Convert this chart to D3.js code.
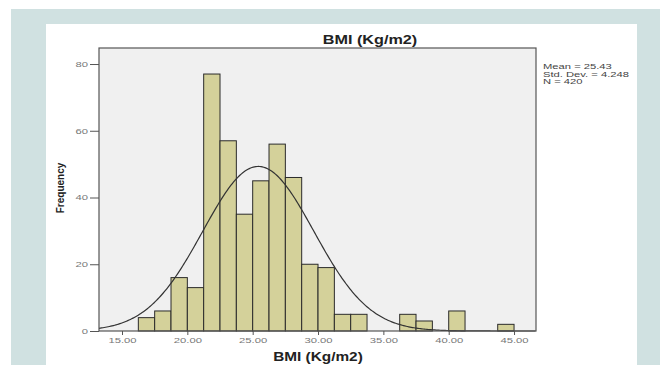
<!DOCTYPE html>
<html>
<head>
<meta charset="utf-8">
<script src="https://cdn.jsdelivr.net/npm/d3@7"></script>
<style>
  body { margin: 0; background: #fff; }
  svg { display: block; }
</style>
</head>
<body>
<svg id="chart" width="660" height="365"></svg>
<script>
// histogram bins (lower edge, count), bin width 1.25
const binStarts = [16.25, 17.5, 18.75, 20, 21.25, 22.5, 23.75, 25, 26.25, 27.5, 28.75, 30, 31.25, 32.5, 33.75, 35, 36.25, 37.5, 38.75, 40, 41.25, 42.5, 43.75];
const counts    = [4, 6, 16, 13, 77, 57, 35, 45, 56, 46, 20, 19, 5, 5, 0, 0, 5, 3, 0, 6, 0, 0, 2];
const binWidth = 1.25;
const xTicks = [15, 20, 25, 30, 35, 40, 45];
const yTicks = [0, 20, 40, 60, 80];
const stats = { mean: 25.43, sd: 4.248, n: 420 };
const legendLines = ["Mean = 25.43", "Std. Dev. = 4.248", "N = 420"];

const svg = d3.select("#chart");
const font = "Liberation Sans, Arial, sans-serif";

// the source picture is stretched sideways; widen text to match
function stretch(sel, f) {
    sel.each(function () {
        const w = this.getComputedTextLength();
        d3.select(this).attr("textLength", w * f).attr("lengthAdjust", "spacingAndGlyphs");
    });
}

// page background
svg.append("rect").attr("x", 11).attr("y", 9).attr("width", 649).attr("height", 356).attr("fill", "#d0e1e1");
svg.append("rect").attr("x", 46).attr("y", 24).attr("width", 591).attr("height", 341).attr("fill", "#fff");

const plot = { left: 99, right: 536, top: 48, bottom: 331 };

const x = d3.scaleLinear().domain([13.24, 46.68]).range([plot.left, plot.right]);
const y = d3.scaleLinear().domain([0, 84.8]).range([plot.bottom, plot.top]);

svg.append("rect")
    .attr("x", plot.left).attr("y", plot.top)
    .attr("width", plot.right - plot.left).attr("height", plot.bottom - plot.top)
    .attr("fill", "#f0f0f0");

const bins = binStarts.map((s, i) => ({ x0: s, x1: s + binWidth, count: counts[i] })).filter(d => d.count > 0);

svg.append("g").selectAll("rect").data(bins).join("rect")
    .attr("x", d => x(d.x0))
    .attr("y", d => y(d.count))
    .attr("width", d => x(d.x1) - x(d.x0))
    .attr("height", d => y(0) - y(d.count))
    .attr("fill", "#d4d19a")
    .attr("stroke", "#2b2b2b")
    .attr("stroke-width", 1);

// fitted normal curve from the stated mean / sd
const pdf = v => stats.n * binWidth / (stats.sd * Math.sqrt(2 * Math.PI)) *
    Math.exp(-0.5 * ((v - stats.mean) / stats.sd) ** 2);
const curveX = d3.range(x.domain()[0], x.domain()[1], 0.1);
svg.append("path")
    .datum(curveX)
    .attr("fill", "none")
    .attr("stroke", "#333")
    .attr("stroke-width", 1.2)
    .attr("d", d3.line().x(d => x(d)).y(d => y(pdf(d))));

// frame
svg.append("rect")
    .attr("x", plot.left).attr("y", plot.top)
    .attr("width", plot.right - plot.left).attr("height", plot.bottom - plot.top)
    .attr("fill", "none").attr("stroke", "#555").attr("stroke-width", 1.2);

const yAxis = svg.append("g")
    .attr("transform", `translate(${plot.left},0)`)
    .call(d3.axisLeft(y).tickValues(yTicks).tickSize(9).tickPadding(2).tickFormat(d3.format("d")));
yAxis.select(".domain").remove();
yAxis.selectAll("line").attr("stroke", "#555");
yAxis.selectAll("text").attr("fill", "#777").attr("font-size", 7.5).attr("font-family", font)
    .call(stretch, 1.5);

const xAxis = svg.append("g")
    .attr("transform", `translate(0,${plot.bottom})`)
    .call(d3.axisBottom(x).tickValues(xTicks).tickSize(4).tickPadding(3).tickFormat(d3.format(".2f")));
xAxis.select(".domain").remove();
xAxis.selectAll("line").attr("stroke", "#555");
xAxis.selectAll("text").attr("fill", "#777").attr("font-size", 7.5).attr("font-family", font)
    .call(stretch, 1.5);

// titles
svg.append("text")
    .attr("x", 370).attr("y", 44)
    .attr("text-anchor", "middle")
    .attr("font-family", font).attr("font-weight", "bold").attr("font-size", 12)
    .attr("fill", "#222")
    .text("BMI (Kg/m2)")
    .call(stretch, 1.35);

svg.append("text")
    .attr("x", 318).attr("y", 361)
    .attr("text-anchor", "middle")
    .attr("font-family", font).attr("font-weight", "bold").attr("font-size", 12)
    .attr("fill", "#222")
    .text("BMI (Kg/m2)")
    .call(stretch, 1.28);

svg.append("text")
    .attr("transform", "translate(64,188) rotate(-90)")
    .attr("text-anchor", "middle")
    .attr("font-family", font)
    .attr("font-weight", "bold").attr("font-size", 10)
    .attr("fill", "#222")
    .text("Frequency");

// legend
svg.append("g").selectAll("text").data(legendLines).join("text")
    .attr("x", 543)
    .attr("y", (d, i) => 69 + i * 7.5)
    .attr("font-family", font).attr("font-size", 7)
    .attr("fill", "#444")
    .text(d => d)
    .call(stretch, 1.6);
</script>
</body>
</html>
